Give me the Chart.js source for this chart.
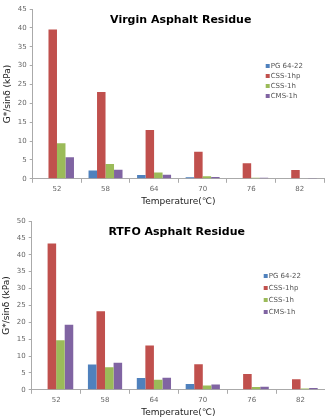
<!DOCTYPE html>
<html>
<head>
<meta charset="utf-8">
<script src="https://cdn.jsdelivr.net/npm/chart.js@4.4.0/dist/chart.umd.min.js"></script>
<style>
  html, body { margin: 0; padding: 0; background: #fff; }
  .box { position: absolute; left: 0; width: 325px; }
  #top { top: 0; height: 209px; }
  #bottom { top: 209px; height: 209px; }
</style>
</head>
<body>
<div class="box" id="top"><canvas id="virginChart"></canvas></div>
<div class="box" id="bottom"><canvas id="rtfoChart"></canvas></div>
<script>
'use strict';

const temps = ['52', '58', '64', '70', '76', '82'];
const seriesNames = ['PG 64-22', 'CSS-1hp', 'CSS-1h', 'CMS-1h'];
const colors = ['#4F81BD', '#C0504D', '#9BBB59', '#8064A2'];

// Virgin asphalt residue
const virginPG = [0, 2.2, 1.0, 0.4, 0, 0];
const virginCSS1hp = [39.6, 23.0, 12.9, 7.2, 4.1, 2.3];
const virginCSS1h = [9.4, 3.9, 1.7, 0.7, 0.3, 0.15];
const virginCMS1h = [5.7, 2.4, 1.1, 0.5, 0.3, 0.1];
const virginTicks = [0, 5, 10, 15, 20, 25, 30, 35, 40, 45];

// RTFO asphalt residue
const rtfoPG = [0, 7.5, 3.5, 1.7, 0, 0];
const rtfoCSS1hp = [43.3, 23.3, 13.1, 7.6, 4.7, 3.1];
const rtfoCSS1h = [14.7, 6.7, 3.0, 1.3, 0.8, 0.4];
const rtfoCMS1h = [19.3, 8.0, 3.6, 1.6, 0.9, 0.5];
const rtfoTicks = [0, 5, 10, 15, 20, 25, 30, 35, 40, 45, 50];

// draws the title and legend inside the plot area, like the excel chart
const insidePlugin = {
  id: 'inside',
  afterDraw(chart, args, opts) {
    const ctx = chart.ctx;
    const a = chart.chartArea;
    ctx.save();
    ctx.fillStyle = '#000';
    ctx.font = 'bold 11px "DejaVu Sans"';
    ctx.textAlign = 'center';
    ctx.textBaseline = 'middle';
    ctx.fillText(opts.title, a.left + opts.titleX, a.top + opts.titleY);

    ctx.font = '7px "DejaVu Sans"';
    ctx.textAlign = 'left';
    chart.data.datasets.forEach(function (ds, i) {
      const y = a.top + opts.legendY + i * opts.legendGap;
      const x = a.left + opts.legendX;
      ctx.fillStyle = ds.backgroundColor;
      ctx.fillRect(x, y - 2, 4, 4);
      ctx.fillStyle = '#555';
      ctx.fillText(ds.label, x + 5, y);
    });
    ctx.restore();
  }
};

function makeChart(id, data, ticks, max, title, inside, pad) {
  const datasets = [];
  for (let i = 0; i < seriesNames.length; i++) {
    datasets.push({
      label: seriesNames[i],
      data: data[i],
      backgroundColor: colors[i],
      borderWidth: 0,
      barPercentage: 1,
      categoryPercentage: 0.7
    });
  }
  inside.title = title;
  return new Chart(document.getElementById(id), {
    type: 'bar',
    data: { labels: temps, datasets: datasets },
    plugins: [insidePlugin],
    options: {
      responsive: true,
      maintainAspectRatio: false,
      animation: false,
      layout: { padding: pad },
      plugins: {
        legend: { display: false },
        tooltip: { enabled: false },
        inside: inside
      },
      scales: {
        x: {
          grid: { offset: true, drawOnChartArea: false, tickLength: 4, color: '#aaa' },
          border: { color: '#aaa' },
          ticks: { color: '#666', font: { size: 7, family: 'DejaVu Sans' }, padding: 2 },
          title: {
            display: true, text: 'Temperature(℃)', color: '#222',
            font: { size: 9, family: 'DejaVu Sans' }, padding: { top: 1, bottom: 0 }
          }
        },
        y: {
          min: 0, max: max,
          afterBuildTicks(axis) { axis.ticks = ticks.map(v => ({ value: v })); },
          grid: { drawOnChartArea: false, tickLength: 3, color: '#aaa' },
          border: { color: '#aaa' },
          ticks: { color: '#666', font: { size: 7, family: 'DejaVu Sans' }, padding: 3 },
          title: {
            display: true, text: 'G*/sinδ (kPa)', color: '#222',
            font: { size: 9, family: 'DejaVu Sans' }, padding: { top: 0, bottom: 2 }
          }
        }
      }
    }
  });
}

makeChart('virginChart', [virginPG, virginCSS1hp, virginCSS1h, virginCMS1h], virginTicks, 45,
  'Virgin Asphalt Residue',
  { titleX: 148, titleY: 11, legendX: 233, legendY: 57, legendGap: 10 },
  { top: 9, left: 2, right: 1, bottom: 2 });

makeChart('rtfoChart', [rtfoPG, rtfoCSS1hp, rtfoCSS1h, rtfoCMS1h], rtfoTicks, 50,
  'RTFO Asphalt Residue',
  { titleX: 145, titleY: 11, legendX: 232, legendY: 55, legendGap: 12 },
  { top: 12, left: 1, right: 0, bottom: 0 });
</script>
</body>
</html>
